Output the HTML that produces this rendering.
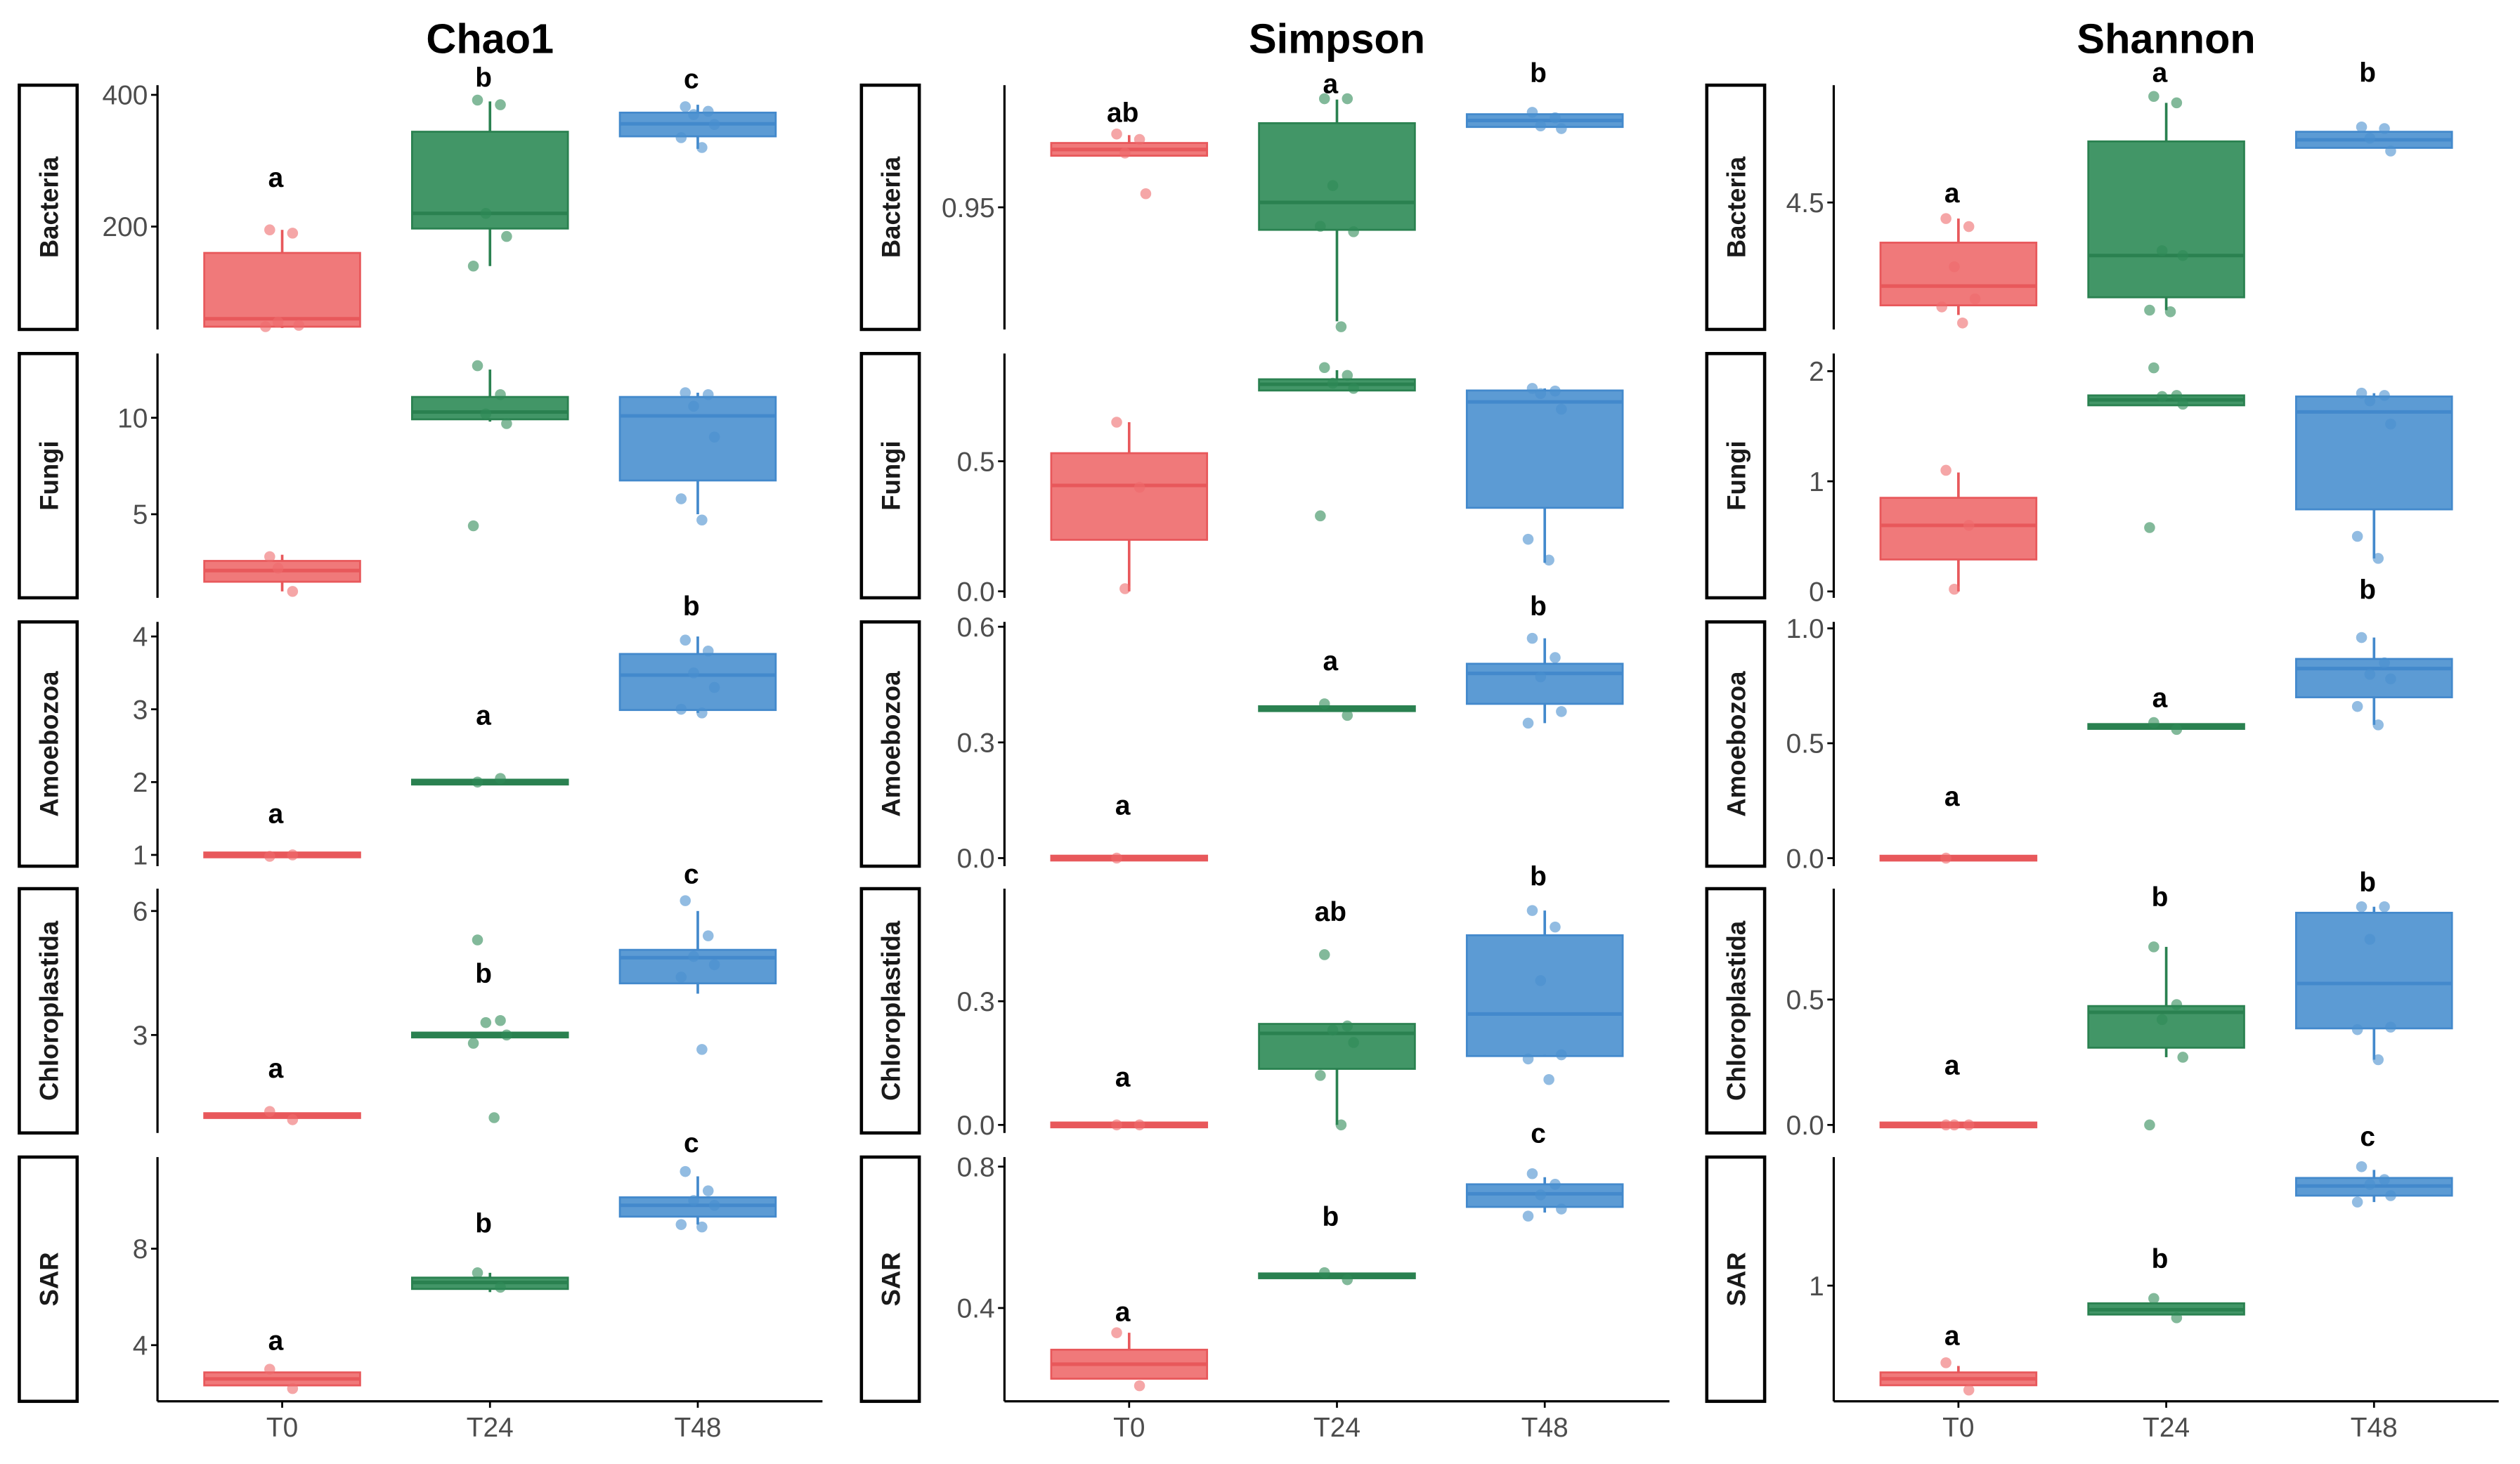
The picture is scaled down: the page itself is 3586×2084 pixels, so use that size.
<!DOCTYPE html>
<html><head><meta charset="utf-8"><title>Alpha diversity boxplots</title>
<style>html,body{margin:0;padding:0;background:#fff;}svg{display:block;}</style></head>
<body>
<svg id="chart" xmlns="http://www.w3.org/2000/svg" width="3586" height="2084" viewBox="0 0 1568 911" preserveAspectRatio="none" font-family="'Liberation Sans', sans-serif"></svg>
<script>
const metrics = ["Chao1", "Simpson", "Shannon"];
const taxa = ["Bacteria", "Fungi", "Amoebozoa", "Chloroplastida", "SAR"];
const groups = ["T0", "T24", "T48"];
const yDomains = [
  [[43.8,414.7],[0.667,13.33],[0.845,4.20],[0.63,6.54],[1.67,11.8]],
  [[0.905,0.995],[-0.025,0.914],[-0.021,0.6125],[-0.0195,0.573],[0.136,0.827]],
  [[3.71,5.23],[-0.058,2.16],[-0.035,1.028],[-0.032,0.942],[0.28,1.8]]
];
const tickValues = [
  [[200,400],[5,10],[1,2,3,4],[3,6],[4,8]],
  [[0.95],[0,0.5],[0,0.3,0.6],[0,0.3],[0.4,0.8]],
  [[4.5],[0,1,2],[0,0.5,1.0],[0,0.5],[1]]
];
const tickLabels = [
  [["200","400"],["5","10"],["1","2","3","4"],["3","6"],["4","8"]],
  [["0.95"],["0.0","0.5"],["0.0","0.3","0.6"],["0.0","0.3"],["0.4","0.8"]],
  [["4.5"],["0","1","2"],["0.0","0.5","1.0"],["0.0","0.5"],["1"]]
];
const boxStats = [
  [
    [[46,48,60,160,195],[140,197,220,344,390],[318,337,356,373,385]],
    [[1.0,1.5,2.08,2.58,2.9],[9.8,9.92,10.3,11.08,12.5],[5.0,6.75,10.1,11.08,11.3]],
    [[1,1,1,1,1],[2,2,2,2,2],[2.95,2.99,3.47,3.76,4.0]],
    [[1.05,1.05,1.05,1.05,1.05],[3,3,3,3,3],[4.0,4.25,4.87,5.06,6.0]],
    [[2.3,2.33,2.6,2.87,2.9],[6.2,6.33,6.6,6.8,7.0],[9.0,9.33,9.8,10.13,11.0]]
  ],
  [
    [[0.969,0.969,0.9713,0.9737,0.9766],[0.908,0.9417,0.9518,0.981,0.9897],[0.9796,0.9796,0.982,0.9843,0.9843]],
    [[0.0,0.198,0.407,0.531,0.65],[0.77,0.772,0.796,0.815,0.85],[0.11,0.321,0.728,0.772,0.78]],
    [[0,0,0,0,0],[0.3875,0.3875,0.3875,0.3875,0.3875],[0.35,0.40,0.479,0.504,0.57]],
    [[0,0,0,0,0],[0.0,0.136,0.222,0.245,0.245],[0.17,0.167,0.269,0.46,0.52]],
    [[0.2,0.2,0.241,0.282,0.33],[0.491,0.491,0.491,0.491,0.491],[0.67,0.686,0.723,0.75,0.77]]
  ],
  [
    [[3.8,3.86,3.98,4.25,4.4],[3.83,3.91,4.17,4.88,5.12],[4.84,4.84,4.89,4.94,4.94]],
    [[0.0,0.29,0.6,0.85,1.08],[1.69,1.69,1.74,1.78,1.78],[0.3,0.745,1.63,1.77,1.8]],
    [[0,0,0,0,0],[0.573,0.573,0.573,0.573,0.573],[0.58,0.70,0.825,0.867,0.96]],
    [[0,0,0,0,0],[0.27,0.308,0.449,0.474,0.71],[0.26,0.385,0.564,0.846,0.87]],
    [[0.38,0.38,0.42,0.46,0.5],[0.82,0.82,0.85,0.89,0.89],[1.52,1.56,1.62,1.67,1.72]]
  ]
];
const pointValues = [
  [
    [[195,190,55,50,48],[392,385,220,185,140],[382,375,370,355,335,320]],
    [[2.8,1.0,2.2],[12.7,11.2,10.2,9.7,4.4],[11.3,11.2,10.6,9.0,5.8,4.7]],
    [[0.98,1.0],[2.0,2.05],[3.95,3.8,3.5,3.3,3.0,2.95]],
    [[1.15,0.95],[5.3,3.35,3.3,3.0,2.8,1.0],[6.25,5.4,4.9,4.7,4.4,2.65]],
    [[3.0,2.2],[7.0,6.4],[11.2,10.4,10.0,9.8,9.0,8.9]]
  ],
  [
    [[0.977,0.975,0.970,0.955],[0.990,0.990,0.958,0.941,0.943,0.906],[0.985,0.983,0.980,0.979]],
    [[0.65,0.40,0.01],[0.86,0.83,0.80,0.78,0.29],[0.78,0.77,0.76,0.70,0.20,0.12]],
    [[0.0],[0.40,0.37],[0.57,0.52,0.47,0.38,0.35]],
    [[0,0],[0.413,0.24,0.23,0.20,0.12,0.0],[0.52,0.48,0.35,0.17,0.16,0.11]],
    [[0.33,0.18],[0.5,0.48],[0.78,0.75,0.72,0.68,0.66]]
  ],
  [
    [[4.4,4.35,4.1,3.9,3.85,3.75],[5.16,5.12,4.2,4.17,3.83,3.82],[4.97,4.96,4.9,4.82]],
    [[1.1,0.6,0.02],[2.03,1.78,1.77,1.70,0.58],[1.8,1.78,1.73,1.52,0.5,0.3]],
    [[0.0],[0.59,0.56],[0.96,0.85,0.80,0.78,0.66,0.58]],
    [[0,0,0],[0.71,0.48,0.42,0.27,0.0],[0.87,0.87,0.74,0.39,0.38,0.26]],
    [[0.52,0.35],[0.92,0.8],[1.74,1.66,1.63,1.56,1.52]]
  ]
];
const letterTexts = [
  [["a","b","c"],null,["a","a","b"],["a","b","c"],["a","b","c"]],
  [["ab","a","b"],null,["a","a","b"],["a","ab","b"],["a","b","c"]],
  [["a","a","b"],null,["a","a","b"],["a","b","b"],["a","b","c"]]
];
const letterYs = [
  [[275,427,425],null,[1.57,2.92,4.42],[2.2,4.5,6.9],[4.2,9.07,12.4]],
  [[0.985,0.9956,0.9997],null,[0.1375,0.5125,0.654],[0.117,0.518,0.604],[0.39,0.66,0.895]],
  [[4.56,5.31,5.31],null,[0.27,0.70,1.17],[0.24,0.91,0.97],[0.69,1.17,1.93]]
];

const NS = "http://www.w3.org/2000/svg";
const svg = document.getElementById("chart");
const colAxisX = [98, 625, 1141];
const stripX = [12, 536, 1062];
const rowTop = [53, 220, 387, 553, 720];
const panelH = 152;
const unit = 129.3;
const fills = ["#EE6A6C", "#2E8B57", "#4A90CF"];
const strokes = ["#E8585B", "#2A8150", "#4389CC"];
const jit = [-0.06, 0.05, -0.02, 0.08, -0.08, 0.02];

function mk(tag, attrs, parent) {
  const e = document.createElementNS(NS, tag);
  for (const k in attrs) e.setAttribute(k, attrs[k]);
  (parent || svg).appendChild(e);
  return e;
}
function xPos(c, g) { return colAxisX[c] + (0.6 + g) * unit; }
function yScale(c, r, v) {
  const d = yDomains[c][r];
  return rowTop[r] + panelH - (v - d[0]) / (d[1] - d[0]) * panelH;
}

metrics.forEach((m, c) => {
  const t = mk("text", {x: colAxisX[c] + 1.6 * unit, y: 33, "text-anchor": "middle", "font-size": 26, "font-weight": "bold", fill: "#000"});
  
  
  t.textContent = m;

  taxa.forEach((tx, r) => {
    const top = rowTop[r];
    const g0 = mk("g", {});
    
    
    const sr = mk("rect", {x: stripX[c], y: top, width: 36, height: panelH, fill: "#fff", stroke: "#000", "stroke-width": 2}, g0);
    
    
    const st = mk("text", {transform: "translate(" + (stripX[c] + 24) + "," + (top + panelH / 2) + ") rotate(-90)", "text-anchor": "middle", "font-size": 16, "font-weight": "bold", fill: "#1a1a1a"}, g0);
    
    
    st.textContent = tx;
    const ax = mk("line", {x1: colAxisX[c], x2: colAxisX[c], y1: top, y2: top + panelH, stroke: "#000", "stroke-width": 1.4}, g0);
    
    
    tickValues[c][r].forEach((tv, i) => {
      const y = yScale(c, r, tv);
      const tk = mk("line", {x1: colAxisX[c] - 4, x2: colAxisX[c], y1: y, y2: y, stroke: "#000", "stroke-width": 1.2}, g0);
      
      
      const tl = mk("text", {x: colAxisX[c] - 6, y: y + 6, "text-anchor": "end", "font-size": 17, fill: "#4d4d4d"}, g0);
      
      
      tl.textContent = tickLabels[c][r][i];
    });
    groups.forEach((gname, g) => {
      const s = boxStats[c][r][g];
      const cx = xPos(c, g);
      const hw = 0.375 * unit;
      let y1 = yScale(c, r, s[3]), y2 = yScale(c, r, s[1]);
      const wu = mk("line", {x1: cx, x2: cx, y1: yScale(c, r, s[4]), y2: y1, stroke: strokes[g], "stroke-width": 1.6}, g0);
      
      
      const wl = mk("line", {x1: cx, x2: cx, y1: y2, y2: yScale(c, r, s[0]), stroke: strokes[g], "stroke-width": 1.6}, g0);
      
      
      if (y2 - y1 < 3) { const mid = (y1 + y2) / 2; y1 = mid - 1.5; y2 = mid + 1.5; }
      const bx = mk("rect", {x: cx - hw, y: y1, width: 2 * hw, height: y2 - y1, fill: fills[g], "fill-opacity": 0.9, stroke: strokes[g], "stroke-width": 1.2}, g0);
      
      
      const md = yScale(c, r, s[2]);
      const ml = mk("line", {x1: cx - hw, x2: cx + hw, y1: md, y2: md, stroke: strokes[g], "stroke-width": 2.2}, g0);
      
      
      pointValues[c][r][g].forEach((pv, i) => {
        const p = mk("circle", {cx: cx + jit[i % jit.length] * unit, cy: yScale(c, r, pv), r: 3.4, fill: fills[g], "fill-opacity": 0.6}, g0);
        
        
      });
      if (letterTexts[c][r]) {
        const lt = mk("text", {x: cx - 4, y: yScale(c, r, letterYs[c][r][g]) + 6, "text-anchor": "middle", "font-size": 17, "font-weight": "bold", fill: "#000"}, g0);
        
        
        lt.textContent = letterTexts[c][r][g];
      }
    });
  });
  const bottom = rowTop[4] + panelH;
  const xa = mk("line", {x1: colAxisX[c], x2: colAxisX[c] + 3.2 * unit, y1: bottom, y2: bottom, stroke: "#000", "stroke-width": 1.4});
  
  
  groups.forEach((gname, g) => {
    const x = xPos(c, g);
    const tk = mk("line", {x1: x, x2: x, y1: bottom, y2: bottom + 4, stroke: "#000", "stroke-width": 1.2});
    
    
    const tl = mk("text", {x: x, y: bottom + 22, "text-anchor": "middle", "font-size": 17, fill: "#4d4d4d"});
    
    
    tl.textContent = gname;
  });
});
</script>
</body></html>
